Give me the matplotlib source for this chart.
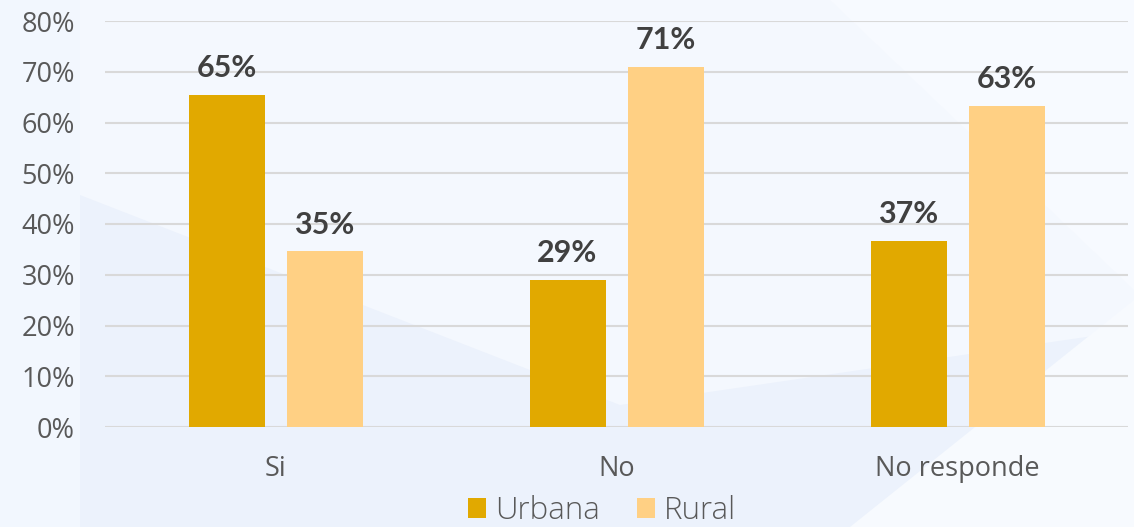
import matplotlib.pyplot as plt
import numpy as np
from matplotlib.patches import Polygon

categorias = ["Si", "No", "No responde"]
urbana = [65.4, 29.0, 36.7]
rural = [34.6, 71.0, 63.3]
etiquetas_urbana = ["65%", "29%", "37%"]
etiquetas_rural = ["35%", "71%", "63%"]
ticks_y = [0, 10, 20, 30, 40, 50, 60, 70, 80]

col_urb = "#E1A900"
col_rur = "#FFD084"
gris = "#595959"

fig = plt.figure(figsize=(11.34, 5.27), dpi=100)
fig.patch.set_facecolor("#ECF2FC")

# fondo con formas suaves
bg = fig.add_axes([0, 0, 1, 1], zorder=-10)
bg.set_xlim(0, 1134)
bg.set_ylim(527, 0)
bg.axis("off")
bg.add_patch(Polygon([[80, 0], [1134, 0], [1134, 330], [620, 405], [80, 195]],
                     closed=True, color="#F4F8FE", lw=0))
bg.add_patch(Polygon([[830, 0], [1134, 0], [1134, 290]], closed=True, color="#F7FAFF", lw=0))
bg.add_patch(Polygon([[850, 527], [1134, 527], [1134, 300]], closed=True, color="#F7FAFE", lw=0))
bg.add_patch(Polygon([[0, 0], [80, 0], [80, 527], [0, 527]], closed=True, color="#F2F7FE", lw=0))

ax = fig.add_axes([105 / 1134, 100 / 527, 1023 / 1134, 406 / 527])
ax.set_facecolor("none")

x = np.arange(len(categorias))
w = 76 / 341
sep = 98 / 341 / 2
b1 = ax.bar(x - sep, urbana, w, color=col_urb, label="Urbana", zorder=3)
b2 = ax.bar(x + sep, rural, w, color=col_rur, label="Rural", zorder=3)

for barras, etq in [(b1, etiquetas_urbana), (b2, etiquetas_rural)]:
    for b, t in zip(barras, etq):
        ax.text(b.get_x() + b.get_width() / 2, b.get_height() + 3.5, t,
                ha="center", va="baseline", fontsize=22, fontweight="bold",
                color="#404040", family="Lato")

ax.set_xlim(-0.5, 2.5)
ax.set_ylim(0, 80)
ax.set_yticks(ticks_y)
ax.set_yticklabels([f"{v}%" for v in ticks_y])
ax.set_xticks(x)
ax.set_xticklabels(categorias)
ax.tick_params(axis="both", length=0, labelsize=19.5, colors=gris)
ax.tick_params(axis="y", pad=21.6)
ax.tick_params(axis="x", pad=20)
for lab in ax.get_xticklabels() + ax.get_yticklabels():
    lab.set_family("Open Sans")
ax.yaxis.grid(True, color="#D9D9D9", lw=1.5, zorder=0)
for s in ax.spines.values():
    s.set_visible(False)

leg = fig.legend(handles=[b1, b2], loc="center", bbox_to_anchor=(602 / 1134, 1 - 511 / 527),
                 ncol=2, frameon=False, handlelength=0.58, handleheight=0.58,
                 handletextpad=0.29, columnspacing=1.2,
                 prop={"family": "Open Sans", "size": 22.5, "weight": "light"})
for t in leg.get_texts():
    t.set_color(gris)

fig.savefig("out.png", dpi=100, facecolor=fig.get_facecolor())
